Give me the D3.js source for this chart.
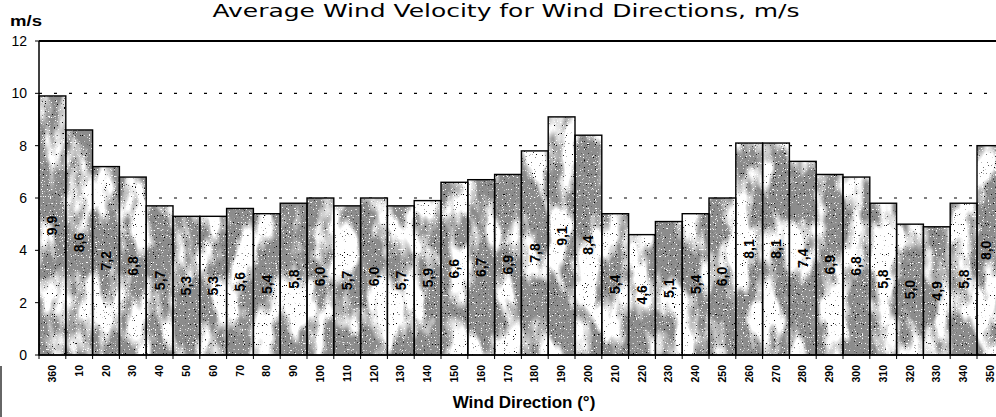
<!DOCTYPE html>
<html>
<head>
<meta charset="utf-8">
<script src="https://cdn.jsdelivr.net/npm/d3@7"></script>
<style>
  body { margin: 0; background: #fff; }
  svg { display: block; font-family: "Liberation Sans", Arial, sans-serif; }
</style>
</head>
<body>
<div id="chart"></div>
<script>
// wind directions (deg) and average velocity (m/s)
var directions = ["360","10","20","30","40","50","60","70","80","90","100","110","120","130","140","150","160","170",
                  "180","190","200","210","220","230","240","250","260","270","280","290","300","310","320","330","340","350"];
var velocities = [9.9, 8.6, 7.2, 6.8, 5.7, 5.3, 5.3, 5.6, 5.4, 5.8, 6.0, 5.7, 6.0, 5.7, 5.9, 6.6, 6.7, 6.9,
                  7.8, 9.1, 8.4, 5.4, 4.6, 5.1, 5.4, 6.0, 8.1, 8.1, 7.4, 6.9, 6.8, 5.8, 5.0, 4.9, 5.8, 8.0];
var yTicks = [0, 2, 4, 6, 8, 10, 12];

var w = 996, h = 417;
var left = 39, bw = 26.8;

var svg = d3.select('#chart').append('svg')
    .attr('width', w)
    .attr('height', h);

var x = d3.scaleBand()
    .domain(directions)
    .range([left, left + bw * directions.length])
    .padding(0);

var y = d3.scaleLinear()
    .domain([0, 12])
    .range([355, 41]);

// stipple texture for bars
var defs = svg.append('defs');
var f = defs.append('filter')
    .attr('id', 'stip')
    .attr('filterUnits', 'userSpaceOnUse')
    .attr('x', 0).attr('y', 0).attr('width', w).attr('height', h)
    .attr('color-interpolation-filters', 'sRGB');
f.append('feTurbulence').attr('type', 'fractalNoise').attr('baseFrequency', '0.04 0.018')
  .attr('numOctaves', 3).attr('seed', 7).attr('result', 'n1');
f.append('feColorMatrix').attr('in', 'n1').attr('type', 'matrix')
  .attr('values', '1 0 0 0 0  1 0 0 0 0  1 0 0 0 0  0 0 0 0 1').attr('result', 'g1');
var ct = f.append('feComponentTransfer').attr('in', 'g1').attr('result', 'g2');
['feFuncR','feFuncG','feFuncB'].forEach(function(k) {
  ct.append(k).attr('type', 'linear').attr('slope', 6).attr('intercept', -2.7);
});
var ct2 = f.append('feComponentTransfer').attr('in', 'g2').attr('result', 'base');
['feFuncR','feFuncG','feFuncB'].forEach(function(k) {
  ct2.append(k).attr('type', 'linear').attr('slope', 0.45).attr('intercept', 0.55);
});
// black specks
f.append('feTurbulence').attr('type', 'fractalNoise').attr('baseFrequency', 0.9)
  .attr('numOctaves', 1).attr('seed', 2).attr('result', 'n2');
f.append('feColorMatrix').attr('in', 'n2').attr('type', 'matrix')
  .attr('values', '0 0 0 0 0  0 0 0 0 0  0 0 0 0 0  14 0 0 0 -9.5').attr('result', 'dots');
// white specks
f.append('feTurbulence').attr('type', 'fractalNoise').attr('baseFrequency', 0.85)
  .attr('numOctaves', 1).attr('seed', 11).attr('result', 'n3');
f.append('feColorMatrix').attr('in', 'n3').attr('type', 'matrix')
  .attr('values', '0 0 0 0 1  0 0 0 0 1  0 0 0 0 1  14 0 0 0 -9.0').attr('result', 'wdots');
var mg = f.append('feMerge').attr('result', 'tex');
mg.append('feMergeNode').attr('in', 'base');
mg.append('feMergeNode').attr('in', 'wdots');
mg.append('feMergeNode').attr('in', 'dots');
f.append('feComposite').attr('in', 'tex').attr('in2', 'SourceGraphic').attr('operator', 'in');

// title
svg.append('text')
    .attr('x', 506).attr('y', 17)
    .attr('text-anchor', 'middle')
    .attr('font-family', '"DejaVu Sans", Verdana, sans-serif')
    .attr('font-size', 17)
    .attr('textLength', 587)
    .attr('lengthAdjust', 'spacingAndGlyphs')
    .text('Average Wind Velocity for Wind Directions, m/s');

svg.append('text')
    .attr('x', 10).attr('y', 26)
    .attr('font-size', 15).attr('font-weight', 'bold')
    .attr('textLength', 32).attr('lengthAdjust', 'spacingAndGlyphs')
    .text('m/s');

// gridlines
svg.append('g').selectAll('line')
  .data(yTicks.filter(function(t) { return t > 0 && t < 12; }))
  .join('line')
    .attr('x1', left).attr('x2', w)
    .attr('y1', function(d) { return y(d); })
    .attr('y2', function(d) { return y(d); })
    .attr('stroke', '#000')
    .attr('stroke-width', 1.2)
    .attr('stroke-dasharray', '3,12');

// bars
var bars = svg.append('g');
bars.append('g').attr('filter', 'url(#stip)')
  .selectAll('rect')
  .data(velocities)
  .join('rect')
    .attr('x', function(d, i) { return x(directions[i]); })
    .attr('y', function(d) { return y(d); })
    .attr('width', x.bandwidth())
    .attr('height', function(d) { return y(0) - y(d); })
    .attr('fill', '#000');
bars.append('g')
  .selectAll('rect')
  .data(velocities)
  .join('rect')
    .attr('x', function(d, i) { return x(directions[i]); })
    .attr('y', function(d) { return y(d); })
    .attr('width', x.bandwidth())
    .attr('height', function(d) { return y(0) - y(d); })
    .attr('fill', 'none')
    .attr('stroke', '#000')
    .attr('stroke-width', 1.4);

// value labels (kept inside the visible area for the clipped last bar)
var fmt = d3.format('.1f');
svg.append('g').selectAll('text')
  .data(velocities)
  .join('text')
    .attr('transform', function(d, i) {
      var cx = Math.min(x(directions[i]) + x.bandwidth() / 2, w - 10);
      return 'translate(' + cx + ',' + y(d / 2) + ') rotate(-90)';
    })
    .attr('text-anchor', 'middle')
    .attr('dy', '0.35em')
    .attr('font-size', 14)
    .attr('font-weight', 'bold')
    .text(function(d) { return fmt(d).replace('.', ','); });

// axes
svg.append('line')
    .attr('x1', left).attr('x2', w).attr('y1', y(12)).attr('y2', y(12))
    .attr('stroke', '#000').attr('stroke-width', 2);
svg.append('line')
    .attr('x1', left).attr('x2', left).attr('y1', y(12)).attr('y2', y(0))
    .attr('stroke', '#000').attr('stroke-width', 1.5);
svg.append('line')
    .attr('x1', left).attr('x2', w).attr('y1', y(0)).attr('y2', y(0))
    .attr('stroke', '#000').attr('stroke-width', 1.5);

var yAxis = svg.append('g');
yAxis.selectAll('line')
  .data(yTicks)
  .join('line')
    .attr('x1', left - 4).attr('x2', left)
    .attr('y1', function(d) { return y(d); })
    .attr('y2', function(d) { return y(d); })
    .attr('stroke', '#000');
yAxis.selectAll('text')
  .data(yTicks)
  .join('text')
    .attr('x', 27)
    .attr('y', function(d) { return y(d); })
    .attr('dy', '0.35em')
    .attr('text-anchor', 'end')
    .attr('font-size', 14)
    .text(function(d) { return d; });

var xAxis = svg.append('g');
xAxis.selectAll('line')
  .data(directions.concat(['end']))
  .join('line')
    .attr('x1', function(d, i) { return left + i * x.step(); })
    .attr('x2', function(d, i) { return left + i * x.step(); })
    .attr('y1', y(0)).attr('y2', y(0) + 4)
    .attr('stroke', '#000');
xAxis.selectAll('text')
  .data(directions)
  .join('text')
    .attr('transform', function(d) {
      return 'translate(' + (x(d) + x.bandwidth() / 2) + ',' + (y(0) + 10) + ') rotate(-90)';
    })
    .attr('text-anchor', 'end')
    .attr('dy', '0.35em')
    .attr('font-size', 10.5)
    .attr('font-weight', 'bold')
    .text(function(d) { return d; });

svg.append('text')
    .attr('x', 524).attr('y', 408)
    .attr('text-anchor', 'middle')
    .attr('font-size', 17)
    .attr('font-weight', 'bold')
    .text('Wind Direction (°)');

// stray frame edge at lower left
svg.append('line')
    .attr('x1', 1).attr('x2', 1).attr('y1', 366).attr('y2', h)
    .attr('stroke', '#333').attr('stroke-width', 1.5);
</script>
</body>
</html>
